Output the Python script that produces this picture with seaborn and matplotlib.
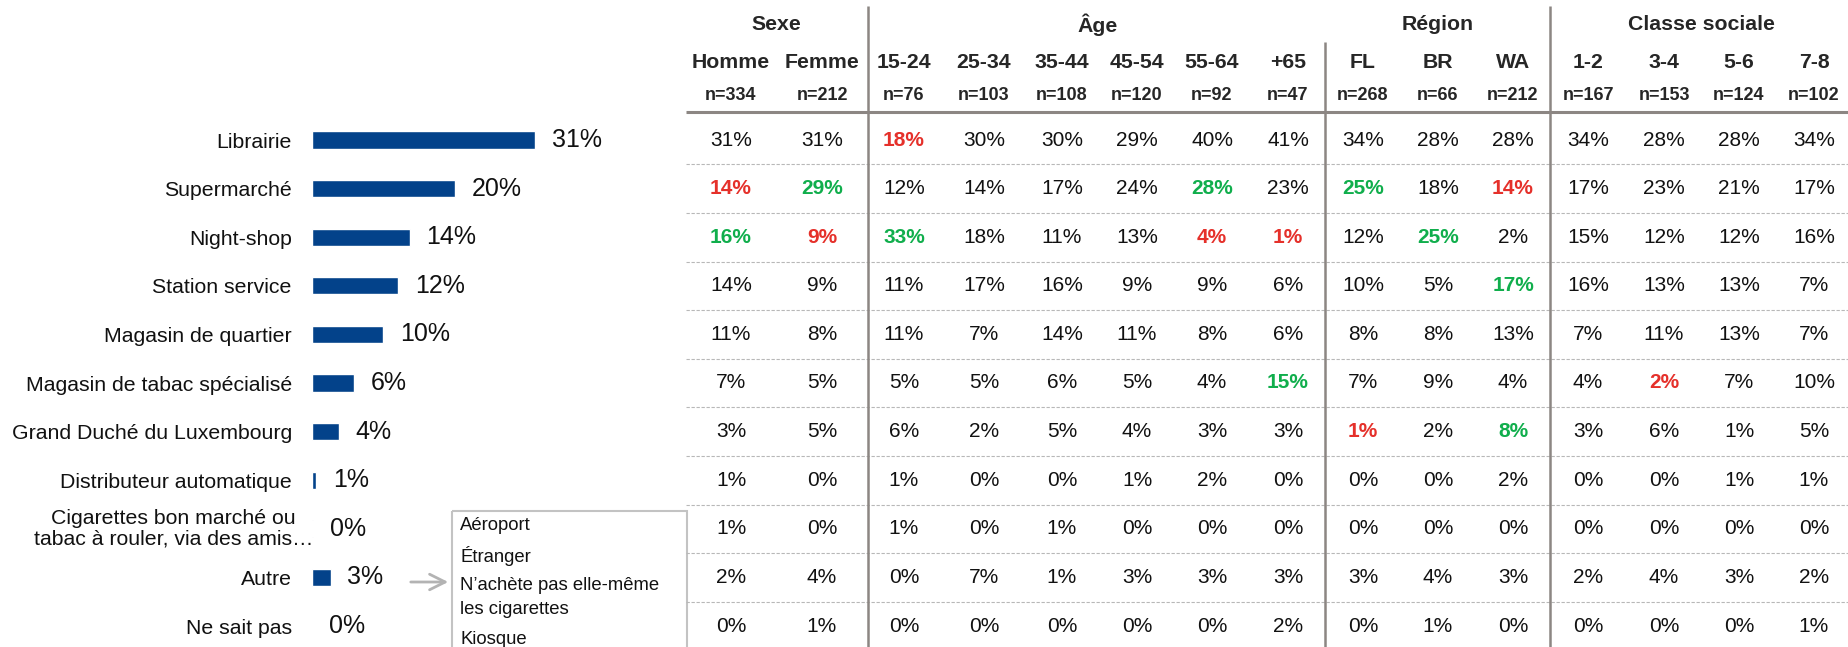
import matplotlib
matplotlib.use("Agg")
import matplotlib.pyplot as plt
import seaborn as sns
import pandas as pd
from matplotlib.patches import Rectangle

# ---- data ----
categories = ["Librairie", "Supermarché", "Night-shop", "Station service",
              "Magasin de quartier", "Magasin de tabac spécialisé",
              "Grand Duché du Luxembourg", "Distributeur automatique",
              "Cigarettes bon marché ou\ntabac à rouler, via des amis…",
              "Autre", "Ne sait pas"]
totals = [31.0, 19.9, 13.6, 12.0, 9.9, 5.8, 3.7, 0.6, 0.15, 2.6, 0.0]

groups = ["Sexe", "Âge", "Région", "Classe sociale"]
group_sizes = [2, 6, 3, 4]
columns = ["Homme", "Femme", "15-24", "25-34", "35-44", "45-54", "55-64", "+65",
           "FL", "BR", "WA", "1-2", "3-4", "5-6", "7-8"]
n_sizes = [334, 212, 76, 103, 108, 120, 92, 47, 268, 66, 212, 167, 153, 124, 102]

table = [
    [31, 31, 18, 30, 30, 29, 40, 41, 34, 28, 28, 34, 28, 28, 34],
    [14, 29, 12, 14, 17, 24, 28, 23, 25, 18, 14, 17, 23, 21, 17],
    [16, 9, 33, 18, 11, 13, 4, 1, 12, 25, 2, 15, 12, 12, 16],
    [14, 9, 11, 17, 16, 9, 9, 6, 10, 5, 17, 16, 13, 13, 7],
    [11, 8, 11, 7, 14, 11, 8, 6, 8, 8, 13, 7, 11, 13, 7],
    [7, 5, 5, 5, 6, 5, 4, 15, 7, 9, 4, 4, 2, 7, 10],
    [3, 5, 6, 2, 5, 4, 3, 3, 1, 2, 8, 3, 6, 1, 5],
    [1, 0, 1, 0, 0, 1, 2, 0, 0, 0, 2, 0, 0, 1, 1],
    [1, 0, 1, 0, 1, 0, 0, 0, 0, 0, 0, 0, 0, 0, 0],
    [2, 4, 0, 7, 1, 3, 3, 3, 3, 4, 3, 2, 4, 3, 2],
    [0, 1, 0, 0, 0, 0, 0, 2, 0, 1, 0, 0, 0, 0, 1],
]
# significantly higher / lower cells (row, column)
sig_high = [(1, 1), (1, 6), (1, 8), (2, 0), (2, 2), (2, 9), (3, 10), (5, 7), (6, 10)]
sig_low = [(0, 2), (1, 0), (1, 10), (2, 1), (2, 6), (2, 7), (5, 12), (6, 8)]

other_items = ["Aéroport", "Étranger", "N’achète pas elle-même\nles cigarettes", "Kiosque"]

# ---- layout (pixels) ----
W, H = 1848, 647
row0, pitch = 140, 48.6
bar_left, px_per_pct = 312, 7.2
col_x = [731, 822, 904, 984, 1062, 1137, 1212, 1288, 1363, 1438, 1513,
         1588, 1664, 1739, 1814]
sep_x = [868, 1325, 1550]
sep_top = [6, 42, 6]

BLUE = "#03428a"
RED = "#e5302a"
GREEN = "#10ae4c"
GREY = "#8c8683"
INK = "#111111"

sns.set_style("white")
plt.rcParams["font.family"] = ["Liberation Sans", "DejaVu Sans"]

fig = plt.figure(figsize=(W / 100, H / 100), dpi=100)

# ---- bar chart ----
ax_w = 360
ax = fig.add_axes([bar_left / W, 0, ax_w / W, 1])
df = pd.DataFrame({"cat": categories, "val": totals})
sns.barplot(data=df, x="val", y="cat", orient="h", color=BLUE, saturation=1,
            width=0.35, ax=ax)
ax.set_xlim(0, ax_w / px_per_pct)
ax.set_ylim((H - row0) / pitch, -row0 / pitch)
ax.set_xlabel("")
ax.set_ylabel("")
ax.set_xticks([])
sns.despine(ax=ax, left=True, bottom=True)
ax.tick_params(axis="y", length=0, pad=14.5, labelsize=15.3, labelcolor=INK)
labels = [c if "\n" not in c else "" for c in categories]
ax.set_yticks(range(len(categories)))
ax.set_yticklabels(labels)
for i, c in enumerate(categories):
    if "\n" in c:
        ax.annotate(c, xy=(0, i), xycoords=ax.get_yaxis_transform(),
                    xytext=(1, 0), textcoords="offset points", ha="right",
                    va="center", multialignment="center", fontsize=15.3,
                    linespacing=1.1, color=INK)
for i, v in enumerate(totals):
    ax.annotate(f"{v:.0f}%", xy=(v, i), xytext=(12, 0), textcoords="offset points",
                ha="left", va="center", fontsize=18, color=INK)

# ---- overlay in pixel coordinates: table, legend box ----
ov = fig.add_axes([0, 0, 1, 1])
ov.set_xlim(0, W)
ov.set_ylim(H, 0)
ov.axis("off")

def row_y(i):
    return row0 + pitch * i

# group headers
start = 0
for g, n in zip(groups, group_sizes):
    cx = sum(col_x[start:start + n]) / n
    ov.text(cx, 25, g, ha="center", va="center", fontsize=15.3, fontweight="bold")
    start += n

for j, (c, n) in enumerate(zip(columns, n_sizes)):
    ov.text(col_x[j], 62, c, ha="center", va="center", fontsize=15.3, fontweight="bold")
    ov.text(col_x[j], 96, f"n={n}", ha="center", va="center", fontsize=13,
            fontweight="bold")

for i, row in enumerate(table):
    for j, v in enumerate(row):
        color, weight = INK, "normal"
        if (i, j) in sig_high:
            color, weight = GREEN, "bold"
        elif (i, j) in sig_low:
            color, weight = RED, "bold"
        ov.text(col_x[j], row_y(i), f"{v}%", ha="center", va="center",
                fontsize=15, color=color, fontweight=weight)

# rules
ov.hlines(112, 686, W, color=GREY, lw=2.2)
for i in range(len(table) - 1):
    ov.hlines(row_y(i + 0.5), 686, W, color="#b8b8b8", lw=0.8,
              linestyles=(0, (3, 1.5)))
for x, top in zip(sep_x, sep_top):
    ov.vlines(x, top, H, color=GREY, lw=1.8)

# box listing what "Autre" covers
ov.add_patch(Rectangle((452, 511), 235, 150, fill=False, ec="#c3c3c3", lw=1.5))
y = 526
for item in other_items:
    for line in item.split("\n"):
        ov.text(460, y, line, ha="left", va="center", fontsize=13.3, color=INK)
        y += 24
    y += 6
ov.annotate("", xy=(451, 582), xytext=(408, 582),
            arrowprops=dict(arrowstyle="->", color="#b3b3b3", lw=2,
                            mutation_scale=28))

fig.savefig("out.png", dpi=100)
